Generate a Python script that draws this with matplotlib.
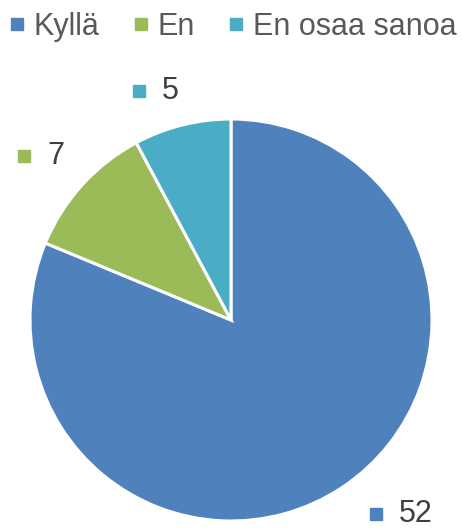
import matplotlib
matplotlib.use('Agg')
import matplotlib.pyplot as plt
from matplotlib.lines import Line2D

labels = ['Kyllä', 'En', 'En osaa sanoa']
values = [52, 7, 5]
colors = ['#4F81BD', '#9BBB59', '#4BACC6']

# where the data labels sit (square centre, in pie radius units)
label_pos = [(0.721, -0.965), (-1.030, 0.816), (-0.458, 1.139)]

plt.rcParams['font.family'] = ['Liberation Sans', 'DejaVu Sans']

W, H = 463, 529
fig = plt.figure(figsize=(W / 100, H / 100), dpi=100)

cx, cy, r = 231, 320, 201
ax = fig.add_axes([(cx - r) / W, (H - cy - r) / H, 2 * r / W, 2 * r / H])
ax.pie(values, colors=colors, startangle=90, counterclock=False, radius=1,
       wedgeprops=dict(edgecolor='white', linewidth=2.2))
ax.set_xlim(-1, 1)
ax.set_ylim(-1, 1)
ax.set_aspect('equal')
ax.axis('off')

for (x, y), v, c in zip(label_pos, values, colors):
    ax.plot([x], [y], marker='s', markersize=8, color=c, linestyle='none', clip_on=False)
    ax.annotate(str(v), (x, y), xytext=(16.5, 0), textcoords='offset points',
                ha='left', va='center', fontsize=22, color='#404040',
                annotation_clip=False)

handles = [Line2D([], [], marker='s', markersize=8, color=c, linestyle='none') for c in colors]
fig.legend(handles, labels, loc='center left', bbox_to_anchor=(0.02, 1 - 27 / H),
           ncol=3, frameon=False, fontsize=22, labelcolor='#595959',
           handlelength=0.5, handletextpad=0.3, columnspacing=1.1,
           borderpad=0, borderaxespad=0)

fig.savefig('out.png', dpi=100)
